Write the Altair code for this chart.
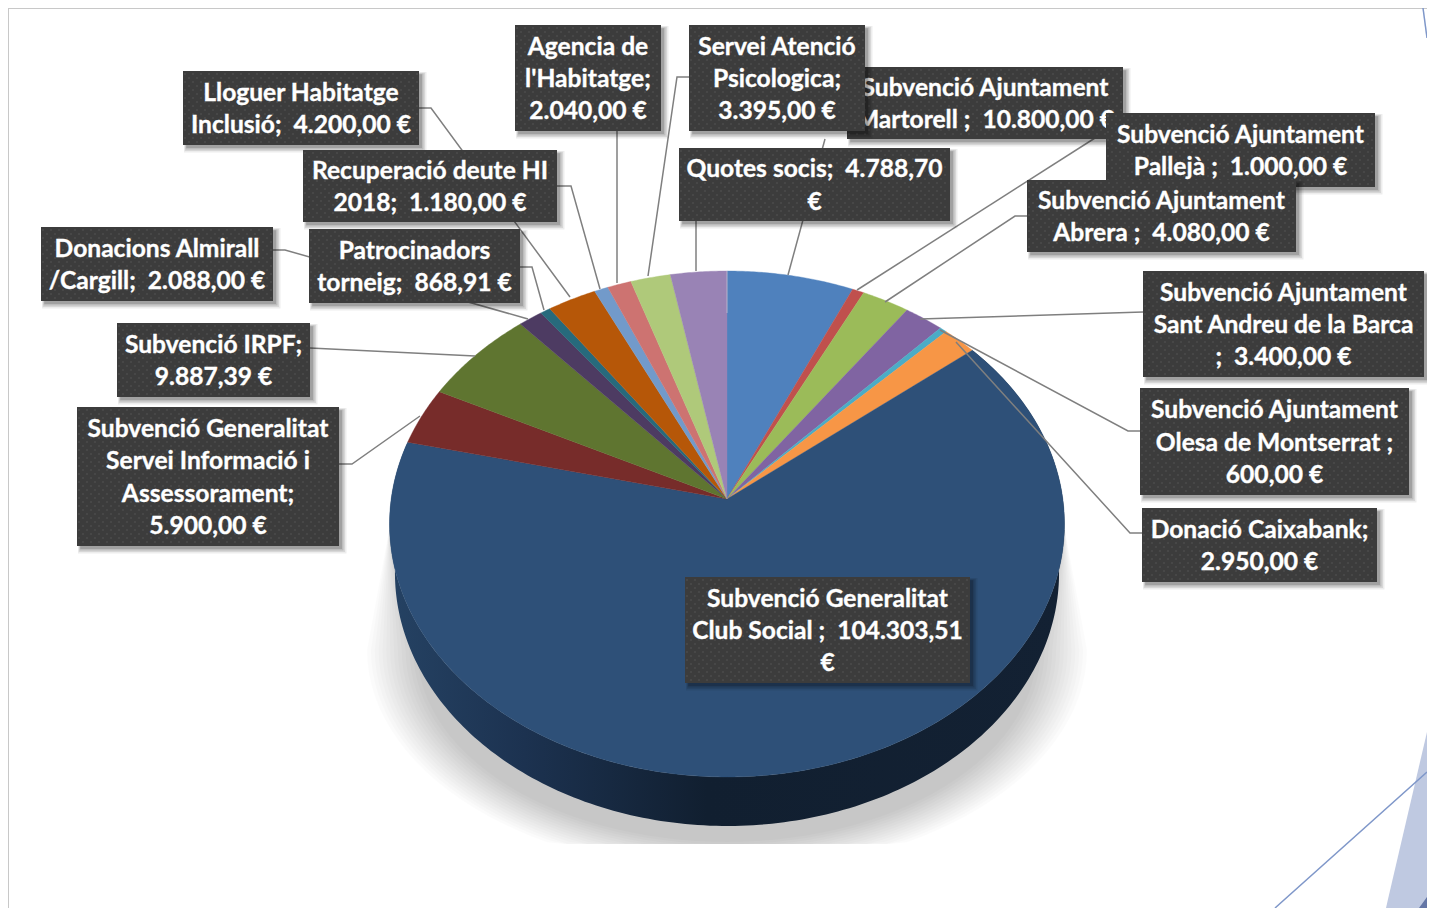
import math
import altair as alt

# ---- data ----
slice_names = ["Subvenció Ajuntament Martorell", "Subvenció Ajuntament Pallejà", "Subvenció Ajuntament Abrera",
               "Subvenció Ajuntament Sant Andreu de la Barca", "Subvenció Ajuntament Olesa de Montserrat",
               "Donació Caixabank", "Subvenció Generalitat Club Social",
               "Subvenció Generalitat Servei Informació i Assessorament", "Subvenció IRPF",
               "Donacions Almirall /Cargill", "Patrocinadors torneig", "Lloguer Habitatge Inclusió",
               "Recuperació deute HI 2018", "Agencia de l'Habitatge", "Servei Atenció Psicologica", "Quotes socis"]
slice_values = [10800.00, 1000.00, 4080.00, 3400.00, 600.00, 2950.00, 104303.51,
                5900.00, 9887.39, 2088.00, 868.91, 4200.00, 1180.00, 2040.00, 3395.00, 4788.70]
slice_colors = ["#4f81bd", "#c0504d", "#9bbb59", "#8064a2", "#4bacc6", "#f79646", "#2e5078",
                "#772c2a", "#5f7530", "#4d3b62", "#276a7c", "#b65708", "#729aca", "#cd7371", "#afc97a", "#9983b5"]

nb = "\u00a0"
label_texts = [
    ["Subvenció Ajuntament", f"Martorell ;{nb} 10.800,00 €"],
    ["Agencia de", "l'Habitatge;", "2.040,00 €"],
    ["Servei Atenció", "Psicologica;", "3.395,00 €"],
    ["Lloguer Habitatge", f"Inclusió;{nb} 4.200,00 €"],
    ["Recuperació deute HI", f"2018;{nb} 1.180,00 €"],
    [f"Quotes socis;{nb} 4.788,70", "€"],
    ["Subvenció Ajuntament", f"Pallejà ;{nb} 1.000,00 €"],
    ["Subvenció Ajuntament", f"Abrera ;{nb} 4.080,00 €"],
    ["Donacions Almirall", f"/Cargill;{nb} 2.088,00 €"],
    ["Patrocinadors", f"torneig;{nb} 868,91 €"],
    ["Subvenció Ajuntament", "Sant Andreu de la Barca", f";{nb} 3.400,00 €"],
    ["Subvenció IRPF;", "9.887,39 €"],
    ["Subvenció Ajuntament", "Olesa de Montserrat ;", "600,00 €"],
    ["Subvenció Generalitat", "Servei Informació i", "Assessorament;", "5.900,00 €"],
    ["Donació Caixabank;", "2.950,00 €"],
    ["Subvenció Generalitat", f"Club Social ;{nb} 104.303,51", "€"],
]
# ---- layout (page pixels) ----
label_boxes = [
    (847, 1123, 67, 139), (515, 661, 25, 131), (689, 865, 25, 131), (183, 419, 71, 145),
    (303, 557, 150, 222), (679, 950, 148, 221), (1106, 1375, 113, 187), (1027, 1296, 180, 252),
    (41, 273, 227, 301), (309, 520, 229, 303), (1143, 1424, 271, 377), (117, 310, 323, 397),
    (1140, 1409, 388, 495), (77, 339, 407, 546), (1142, 1377, 508, 582), (685, 970, 577, 683),
]
leader_paths = [
    [(825, 139), (788, 275)],
    [(696, 221), (696, 271)],
    [(689, 77), (677, 77), (648, 276)],
    [(617, 131), (617, 283)],
    [(557, 186), (571, 186), (600, 289)],
    [(419, 108), (431, 108), (570, 297)],
    [(520, 267), (532, 267), (544, 310)],
    [(273, 250), (285, 250), (528, 319)],
    [(310, 348), (475, 356)],
    [(339, 464), (352, 464), (420, 416)],
    [(1142, 533), (1130, 533), (956, 342)],
    [(1140, 431), (1128, 431), (940, 330)],
    [(1143, 312), (920, 319)],
    [(1027, 216), (1015, 216), (885, 302)],
    [(1106, 131), (857, 290)],
]
W, H = 1419, 900
APEX_X, APEX_Y = 727.0, 499.0
BX, BY, K = 335.8, 250.5, 0.0988
DEPTH = 49.0
BOTTOM_SHRINK = 0.984

X = alt.X("x:Q", scale=alt.Scale(domain=[8, 8 + W], zero=False, nice=False), axis=None)
Y = alt.Y("y:Q", scale=alt.Scale(domain=[8 + H, 8], zero=False, nice=False), axis=None)


def rim(deg, dy=0.0, shrink=1.0):
    t = math.radians(deg)
    u, v = math.sin(t), -math.cos(t)
    d = 1 - K * v
    return [APEX_X + shrink * BX * u / d, APEX_Y + BY * v / d + dy]


def feature(points, color, opacity=1.0):
    return {"type": "Feature",
            "geometry": {"type": "Polygon", "coordinates": [points + [points[0]]]},
            "properties": {"color": color, "opacity": opacity}}


def geo(features, **mark):
    return (alt.Chart(alt.Data(values=features))
            .mark_geoshape(**mark)
            .project(type="identity", scale=1, translate=[-8, -8]))


def geo_filled(features, stroke_w=0.4):
    return geo(features, strokeWidth=stroke_w).encode(
        fill=alt.Fill("properties.color:N", scale=None),
        stroke=alt.Stroke("properties.color:N", scale=None),
        opacity=alt.Opacity("properties.opacity:Q", scale=None),
    )


layers = []

# theme decoration and frame (cropped at the right edge of the drawing)
decor = [
    feature([[1386, 908], [1388.5, 897], [1427, 732], [1427, 908]], "#bfc9e1"),
    feature([[1419, 908], [1427, 897], [1427, 908]], "#6476a6"),
]
layers.append(geo_filled(decor, 0))
thin = [
    ("#c8c8c8", 2, [(8, 908), (8, 8), (1427, 8)]),
    ("#7f97c9", 1.5, [(1275, 908), (1427, 772)]),
    ("#7f97c9", 1.5, [(1423, 8), (1427, 38)]),
]
for col, sw, pts in thin:
    rows = [{"x": a, "y": b, "i": i} for i, (a, b) in enumerate(pts)]
    layers.append(alt.Chart(alt.Data(values=rows)).mark_line(color=col, strokeWidth=sw)
                  .encode(x=X, y=Y, order="i:Q"))

# soft floor shadow
cx, cy = 727.0, 620.0
for j in range(14):
    f = j / 13
    rx, ry = 368.0 - 50 * f, 252.0 - 30 * f
    pts = [[cx - 338, 530], [cx - rx + 8, cy + 30]]
    for a in range(180, -1, -3):
        r = math.radians(a)
        px = cx + (rx - 8) * math.cos(r)
        py = cy + 30 * (1 - math.sin(r)) + ry * math.sin(r)
        pts.append([px, min(844, py)])
    pts.append([cx + 338, 530])
    layers.append(geo_filled([feature(pts, "#000000", 0.0145)], 0))

# side wall of the largest slice
start_big = sum(slice_values[:6]) / sum(slice_values) * 360
end_big = sum(slice_values[:7]) / sum(slice_values) * 360
steps = [start_big + (end_big - start_big) * i / 240 for i in range(241)]
wall = [rim(a) for a in steps] + [rim(a, DEPTH, BOTTOM_SHRINK) for a in reversed(steps)]
wall_grad = alt.Gradient(gradient="linear", x1=0, x2=1, y1=0, y2=0, stops=[
    alt.GradientStop(color="#254263", offset=0),
    alt.GradientStop(color="#1c3250", offset=0.2),
    alt.GradientStop(color="#111f30", offset=0.47),
    alt.GradientStop(color="#132133", offset=1),
])
layers.append(geo([feature(wall, "#14263b")], fill=wall_grad, strokeWidth=0))

# top face
total = sum(slice_values)
wedges = []
acc = 0.0
for name, val, col in zip(slice_names, slice_values, slice_colors):
    a0 = acc / total * 360
    acc += val
    a1 = acc / total * 360
    n = max(2, int((a1 - a0) * 2))
    pts = [[APEX_X, APEX_Y]] + [rim(a0 + (a1 - a0) * i / n) for i in range(n + 1)]
    wedges.append(feature(pts, col))
layers.append(geo_filled(wedges))

# faint seam at 12 o'clock
seam = [{"x": 727, "y": 271, "i": 0}, {"x": 727, "y": 313, "i": 1}]
layers.append(alt.Chart(alt.Data(values=seam)).mark_line(color="#c9c9d6", strokeWidth=1, opacity=0.7)
              .encode(x=X, y=Y, order="i:Q"))

# leader lines
leader_rows = [{"x": a, "y": b, "i": i, "k": k}
               for k, path in enumerate(leader_paths) for i, (a, b) in enumerate(path)]
layers.append(alt.Chart(alt.Data(values=leader_rows)).mark_line(color="#7f7f7f", strokeWidth=1.5)
              .encode(x=X, y=Y, detail="k:N", order="i:Q"))

# labels, one after the other because they overlap
LINE_H = 32.4
for lines, (x0, x1, y0, y1) in zip(label_texts, label_boxes):
    sh = []
    for grow, op in [(6, 0.07), (4.5, 0.09), (3, 0.12), (1.5, 0.14)]:
        sh.append({"x": x0 + 4 - grow / 2, "x2": x1 + 1.5 + grow, "y": y0 + 4 - grow / 2,
                   "y2": y1 + 1.5 + grow, "o": op})
    layers.append(alt.Chart(alt.Data(values=sh)).mark_rect(color="#000000")
                  .encode(x=X, x2="x2:Q", y=Y, y2="y2:Q", opacity=alt.Opacity("o:Q", scale=None)))
    layers.append(alt.Chart(alt.Data(values=[{"x": x0, "x2": x1, "y": y0, "y2": y1}]))
                  .mark_rect(color="#3c3c3c")
                  .encode(x=X, x2="x2:Q", y=Y, y2="y2:Q"))
    # dotted texture of the label fill
    dots = []
    row = 0
    py = y0 + 3
    while py < y1 - 1:
        px = x0 + (2 if row % 2 == 0 else 6)
        while px < x1 - 1:
            dots.append({"x": px, "y": py})
            px += 8
        py += 4
        row += 1
    layers.append(alt.Chart(alt.Data(values=dots))
                  .mark_circle(color="#4c4c4c", size=6, opacity=0.75)
                  .encode(x=X, y=Y))
    mid_y = (y0 + y1) / 2 + 2
    mid_x = (x0 + x1) / 2
    rows = [{"x": mid_x, "y": mid_y + (i - (len(lines) - 1) / 2) * LINE_H, "t": t}
            for i, t in enumerate(lines)]
    layers.append(alt.Chart(alt.Data(values=rows))
                  .mark_text(font="Lato", fontWeight="bold", fontSize=24.6, color="#ffffff",
                             stroke="#ffffff", strokeWidth=0.35,
                             align="center", baseline="middle")
                  .encode(x=X, y=Y, text="t:N"))

chart = (alt.layer(*layers)
         .properties(width=W, height=H, padding=0, background="#ffffff", autosize="none")
         .configure_view(stroke=None))

chart.save("out.html", embed_options={"renderer": "svg", "actions": False})
